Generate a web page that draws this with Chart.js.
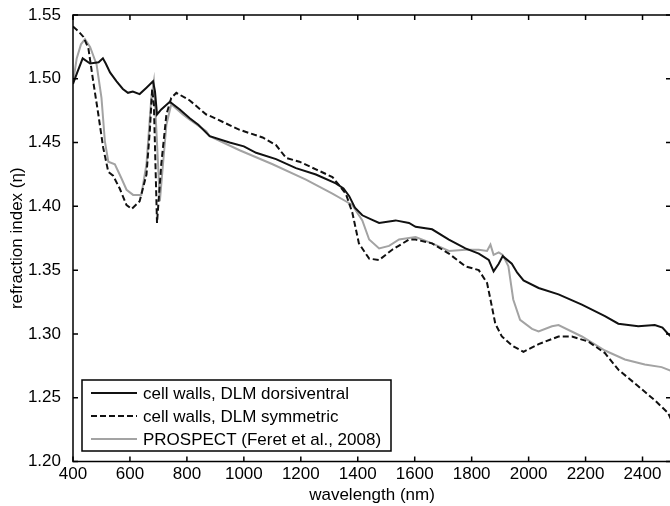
<!DOCTYPE html>
<html>
<head>
<meta charset="utf-8">
<script src="https://cdn.jsdelivr.net/npm/chart.js@4.4.1/dist/chart.umd.min.js"></script>
<style>
  html, body { margin: 0; padding: 0; background: #fff; overflow: hidden; }
  canvas { display: block; }
</style>
</head>
<body>
<canvas id="chart" width="672" height="506"></canvas>
<script>
'use strict';

// tick labels
var xTicks = [400, 600, 800, 1000, 1200, 1400, 1600, 1800, 2000, 2200, 2400];
var yTicks = [1.20, 1.25, 1.30, 1.35, 1.40, 1.45, 1.50, 1.55];

var seriesNames = ['cell walls, DLM dorsiventral', 'cell walls, DLM symmetric', 'PROSPECT (Feret et al., 2008)'];

// cell walls, DLM dorsiventral
var wlDorsi = [400, 415, 434, 460, 490, 505, 515, 530, 553, 575, 593, 610, 634, 658, 681, 688, 695, 710, 740, 775,
  810, 840, 880, 950, 1000, 1043, 1113, 1183, 1253, 1323, 1350, 1370, 1390, 1416, 1445, 1475, 1533, 1580, 1603, 1661,
  1720, 1778, 1825, 1860, 1877, 1895, 1909, 1941, 1960, 1982, 2035, 2105, 2187, 2268, 2315, 2385, 2443, 2470, 2490, 2500];
var nDorsi = [1.496, 1.505, 1.516, 1.512, 1.513, 1.516, 1.512, 1.505, 1.498, 1.492, 1.489, 1.490, 1.488, 1.493, 1.498, 1.490, 1.472, 1.476, 1.482, 1.476,
  1.469, 1.464, 1.455, 1.450, 1.447, 1.442, 1.437, 1.430, 1.425, 1.418, 1.414, 1.408, 1.399, 1.393, 1.390, 1.387, 1.389, 1.387, 1.384, 1.382,
  1.374, 1.367, 1.363, 1.358, 1.349, 1.355, 1.361, 1.355, 1.348, 1.342, 1.336, 1.331, 1.323, 1.314, 1.308, 1.306, 1.307, 1.305, 1.300, 1.298];

// cell walls, DLM symmetric
var wlSym = [400, 420, 436, 454, 471, 489, 506, 524, 541, 564, 588, 606, 634, 658, 670, 678, 684, 695, 710, 728,
  745, 763, 810, 868, 880, 985, 1066, 1113, 1148, 1195, 1253, 1311, 1358, 1381, 1404, 1440, 1475, 1521, 1580, 1603,
  1661, 1720, 1778, 1825, 1854, 1866, 1883, 1906, 1941, 1982, 2035, 2105, 2152, 2210, 2268, 2315, 2385, 2443, 2490, 2500];
var nSym = [1.541, 1.537, 1.533, 1.524, 1.498, 1.472, 1.446, 1.427, 1.424, 1.414, 1.401, 1.398, 1.404, 1.425, 1.460, 1.492, 1.480, 1.387, 1.433, 1.472,
  1.485, 1.489, 1.483, 1.472, 1.471, 1.460, 1.454, 1.448, 1.438, 1.435, 1.429, 1.423, 1.410, 1.395, 1.371, 1.359, 1.358, 1.366, 1.374, 1.374,
  1.371, 1.363, 1.353, 1.350, 1.340, 1.327, 1.308, 1.298, 1.291, 1.286, 1.292, 1.298, 1.298, 1.294, 1.285, 1.272, 1.259, 1.248, 1.238, 1.233];

// PROSPECT (Feret et al., 2008)
var wlProspect = [400, 413, 428, 442, 460, 483, 500, 512, 524, 547, 570, 588, 611, 640, 658, 675, 684, 693, 705, 716,
  728, 745, 786, 810, 868, 880, 985, 1101, 1218, 1311, 1358, 1381, 1416, 1440, 1475, 1510, 1545, 1603, 1661, 1720,
  1778, 1825, 1854, 1866, 1877, 1895, 1909, 1929, 1946, 1970, 2012, 2035, 2082, 2105, 2187, 2268, 2338, 2408, 2467, 2500];
var nProspect = [1.497, 1.516, 1.527, 1.531, 1.525, 1.511, 1.485, 1.451, 1.435, 1.433, 1.422, 1.413, 1.409, 1.409, 1.433, 1.485, 1.498, 1.459, 1.404, 1.433,
  1.464, 1.480, 1.472, 1.468, 1.459, 1.455, 1.444, 1.433, 1.421, 1.410, 1.404, 1.401, 1.389, 1.374, 1.367, 1.369, 1.374, 1.376, 1.371, 1.365,
  1.366, 1.366, 1.365, 1.370, 1.362, 1.364, 1.362, 1.353, 1.327, 1.311, 1.304, 1.302, 1.306, 1.307, 1.298, 1.287, 1.280, 1.276, 1.274, 1.271];

var FONT = "'Liberation Sans', Arial, sans-serif";

function toPoints(xs, ys) {
  var pts = [];
  for (var i = 0; i < xs.length; i++) {
    pts.push({ x: xs[i], y: ys[i] });
  }
  return pts;
}

// matlab style box with inward ticks + legend inside the axes
var boxPlugin = {
  id: 'box',
  afterDatasetsDraw: function(chart) {
    var ctx = chart.ctx;
    var a = chart.chartArea;
    var xs = chart.scales.x;
    var ys = chart.scales.y;
    var len = 5;
    ctx.save();
    ctx.strokeStyle = '#000';
    ctx.lineWidth = 1.5;
    ctx.beginPath();
    xTicks.forEach(function(v) {
      var px = xs.getPixelForValue(v);
      ctx.moveTo(px, a.bottom); ctx.lineTo(px, a.bottom - len);
      ctx.moveTo(px, a.top); ctx.lineTo(px, a.top + len);
    });
    yTicks.forEach(function(v) {
      var py = ys.getPixelForValue(v);
      ctx.moveTo(a.left, py); ctx.lineTo(a.left + len, py);
      ctx.moveTo(a.right, py); ctx.lineTo(a.right - len, py);
    });
    ctx.stroke();
    ctx.strokeRect(a.left, a.top, a.right - a.left, a.bottom - a.top);

    // legend
    var lx = a.left + 9, ly = a.bottom - 81.5, lw = 309, lh = 71;
    ctx.fillStyle = '#fff';
    ctx.fillRect(lx, ly, lw, lh);
    ctx.strokeRect(lx, ly, lw, lh);
    ctx.font = '17px ' + FONT;
    ctx.textBaseline = 'middle';
    chart.data.datasets.forEach(function(ds, i) {
      var ry = ly + 13 + i * 23;
      ctx.beginPath();
      ctx.strokeStyle = ds.borderColor;
      ctx.lineWidth = ds.borderWidth;
      ctx.setLineDash(ds.borderDash || []);
      ctx.moveTo(lx + 9, ry);
      ctx.lineTo(lx + 55, ry);
      ctx.stroke();
      ctx.setLineDash([]);
      ctx.fillStyle = '#000';
      ctx.fillText(ds.label, lx + 61, ry + 1);
    });
    ctx.restore();
  }
};

var ctx = document.getElementById('chart').getContext('2d');
var chart = new Chart(ctx, {
  type: 'line',
  data: {
    datasets: [{
      label: seriesNames[0],
      data: toPoints(wlDorsi, nDorsi),
      borderColor: '#111',
      borderWidth: 2,
      pointRadius: 0,
      tension: 0
    }, {
      label: seriesNames[1],
      data: toPoints(wlSym, nSym),
      borderColor: '#111',
      borderWidth: 2,
      borderDash: [6, 3],
      pointRadius: 0,
      tension: 0
    }, {
      label: seriesNames[2],
      data: toPoints(wlProspect, nProspect),
      borderColor: '#a3a3a3',
      borderWidth: 2,
      pointRadius: 0,
      tension: 0
    }]
  },
  options: {
    responsive: false,
    animation: false,
    devicePixelRatio: 1,
    layout: { padding: { top: 15, right: 1, left: 0, bottom: 0 } },
    plugins: {
      legend: { display: false },
      tooltip: { enabled: false }
    },
    scales: {
      x: {
        type: 'linear',
        min: 400,
        max: 2500,
        grid: { display: false },
        border: { display: false },
        afterBuildTicks: function(s) { s.ticks = xTicks.map(function(v) { return { value: v }; }); },
        afterFit: function(s) { s.height = 44.5; },
        ticks: {
          color: '#000',
          font: { size: 17, family: FONT },
          padding: -5,
          maxRotation: 0,
          autoSkip: false,
          callback: function(v) { return String(v); }
        },
        title: { display: true, text: 'wavelength (nm)', color: '#000', font: { size: 17, family: FONT }, padding: { top: 0, bottom: 0 } }
      },
      y: {
        min: 1.20,
        max: 1.55,
        grid: { display: false },
        border: { display: false },
        afterBuildTicks: function(s) { s.ticks = yTicks.map(function(v) { return { value: v }; }); },
        afterFit: function(s) { s.width = 73; },
        ticks: {
          color: '#000',
          font: { size: 17, family: FONT },
          padding: 4,
          autoSkip: false,
          callback: function(v) { return v.toFixed(2); }
        },
        title: { display: true, text: 'refraction index (η)', color: '#000', font: { size: 17, family: FONT }, padding: { top: 7, bottom: 0 } }
      }
    }
  },
  plugins: [boxPlugin]
});
</script>
</body>
</html>
